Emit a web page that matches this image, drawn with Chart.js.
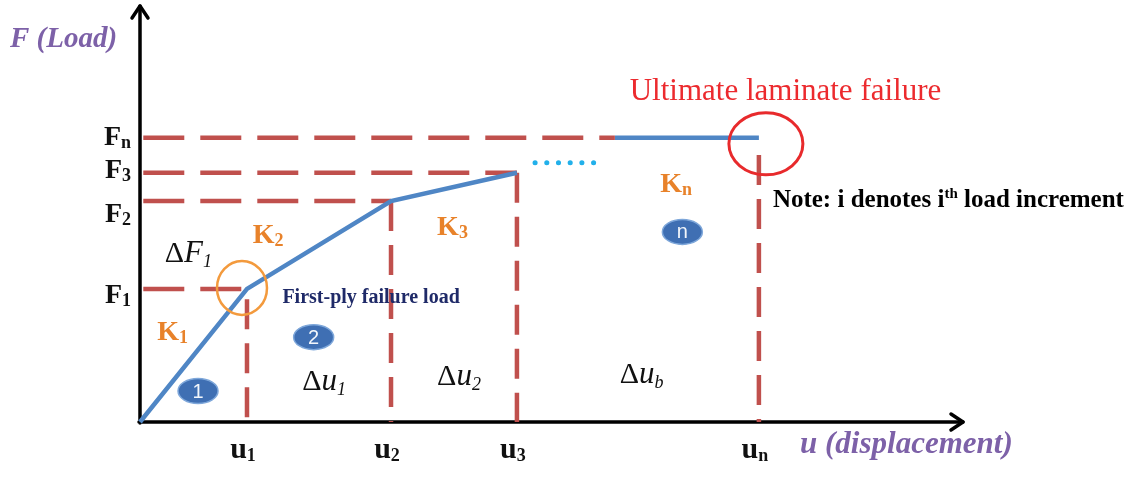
<!DOCTYPE html>
<html>
<head>
<meta charset="utf-8">
<script src="https://cdn.jsdelivr.net/npm/chart.js@4.4.0/dist/chart.umd.min.js"></script>
<style>
  html, body { margin: 0; padding: 0; background: #fff; }
  #wrap { width: 1148px; height: 477px; position: relative; }
</style>
</head>
<body>
<div id="wrap"><canvas id="c"></canvas></div>
<script>
// displacement / load levels (arbitrary units)
const uValues = [13.0, 30.5, 45.8, 75.2];
const uSubs = ['1', '2', '3', 'n'];
const fValues = [32.0, 53.1, 59.9, 68.3];
const fSubs = ['1', '2', '3', 'n'];

// piecewise curve up to u3, then the "..." gap, then the plateau at Fn
const curveU = [0, 13.0, 30.5, 45.8];
const curveF = [0, 32.0, 53.1, 59.9];
const gapU = [48.0, 56.5];
const gapF = [62.3, 62.3];
const plateauU = [57.7, 75.2];

const BLUE = '#4f86c5';
const RED = '#c0504d';
const ORANGE = '#e8822a';
const PURPLE = '#7d61a8';
const SERIF = '"Liberation Serif", "Times New Roman", serif';

function pts(xs, ys) {
    return xs.map((x, i) => ({ x: x, y: ys[i] }));
}

const datasets = [];
datasets.push({ data: pts(curveU, curveF), borderColor: BLUE, borderWidth: 4.5 });
datasets.push({ data: pts(gapU, gapF), borderColor: '#22b0ea', borderWidth: 5, borderDash: [0.1, 11.6], borderCapStyle: 'round' });

// red dashed level lines from the load axis
fValues.forEach((f, i) => {
    const xEnd = i === 3 ? plateauU[0] : uValues[i];
    datasets.push({ data: [{ x: 0.4, y: f }, { x: xEnd, y: f }], borderColor: RED, borderWidth: 4.5, borderDash: [41, 16] });
});
datasets.push({ data: pts(plateauU, [fValues[3], fValues[3]]), borderColor: BLUE, borderWidth: 4.5 });

// red dashed verticals down to the displacement axis
const vTop = [29.5, 53.1, 59.9, 64.2];
uValues.forEach((u, i) => {
    datasets.push({ data: [{ x: u, y: vTop[i] }, { x: u, y: 0 }], borderColor: RED, borderWidth: 4.5, borderDash: [30, 14] });
});

function subText(ctx, base, sub, x, y, font, subFont, color, subDy, align) {
    ctx.font = font;
    const w1 = ctx.measureText(base).width;
    ctx.font = subFont;
    const w2 = ctx.measureText(sub).width;
    let left = x;
    if (align === 'right') left = x - w1 - w2;
    if (align === 'center') left = x - (w1 + w2) / 2;
    ctx.fillStyle = color;
    ctx.textAlign = 'left';
    ctx.textBaseline = 'alphabetic';
    ctx.font = font;
    ctx.fillText(base, left, y);
    ctx.font = subFont;
    ctx.fillText(sub, left + w1, y + subDy);
}

// upright delta + italic symbol + italic subscript
function deltaText(ctx, sym, sub, x, y) {
    ctx.fillStyle = '#111';
    ctx.textAlign = 'left';
    ctx.textBaseline = 'alphabetic';
    ctx.font = '30px ' + SERIF;
    ctx.fillText('\u0394', x, y);
    const w = ctx.measureText('\u0394').width;
    subText(ctx, sym, sub, x + w, y, 'italic 31px ' + SERIF, 'italic 18px ' + SERIF, '#111', 5, 'left');
}

function badge(ctx, x, y, label) {
    ctx.save();
    ctx.beginPath();
    ctx.ellipse(x, y, 20, 12.5, 0, 0, Math.PI * 2);
    ctx.fillStyle = '#3f6fb3';
    ctx.fill();
    ctx.lineWidth = 1.5;
    ctx.strokeStyle = '#7ea7da';
    ctx.stroke();
    ctx.fillStyle = '#f2f6fb';
    ctx.font = '20px "Liberation Sans", Arial, sans-serif';
    ctx.textAlign = 'center';
    ctx.textBaseline = 'middle';
    ctx.fillText(label, x, y + 1);
    ctx.restore();
}

const sketch = {
    id: 'sketch',
    beforeDatasetsDraw(chart) {
        const { ctx, scales: { x, y } } = chart;
        const x0 = x.getPixelForValue(0), y0 = y.getPixelForValue(0);
        const xTip = x.getPixelForValue(100), yTip = y.getPixelForValue(100);
        ctx.save();
        ctx.strokeStyle = '#000';
        ctx.lineWidth = 3.5;
        ctx.lineCap = 'round';
        ctx.lineJoin = 'round';
        ctx.beginPath();
        ctx.moveTo(x0, y0 + 1); ctx.lineTo(x0, yTip);
        ctx.moveTo(x0 - 1, y0); ctx.lineTo(xTip, y0);
        ctx.stroke();
        ctx.beginPath();
        ctx.moveTo(x0 - 8, yTip + 12); ctx.lineTo(x0, yTip); ctx.lineTo(x0 + 8, yTip + 12);
        ctx.moveTo(xTip - 12, y0 - 8); ctx.lineTo(xTip, y0); ctx.lineTo(xTip - 12, y0 + 8);
        ctx.stroke();
        ctx.restore();
    },
    afterDatasetsDraw(chart) {
        const { ctx, scales: { x, y } } = chart;
        const X = v => x.getPixelForValue(v), Y = v => y.getPixelForValue(v);
        ctx.save();

        // circles at first-ply and ultimate failure
        ctx.lineWidth = 2.5;
        ctx.strokeStyle = '#f39a3d';
        ctx.beginPath();
        ctx.ellipse(X(uValues[0]) - 5, Y(fValues[0]) - 1, 25, 27, 0, 0, Math.PI * 2);
        ctx.stroke();
        ctx.strokeStyle = '#e82a2c';
        ctx.lineWidth = 3;
        ctx.beginPath();
        ctx.ellipse(X(uValues[3]) + 7, Y(fValues[3]) + 6, 37, 31, 0, 0, Math.PI * 2);
        ctx.stroke();

        // tick labels
        const tickSub = 'bold 18px ' + SERIF;
        const fDy = [14, 21, 5, 7];
        fValues.forEach((f, i) => {
            subText(ctx, 'F', fSubs[i], X(0) - 9, Y(f) + fDy[i], 'bold 28px ' + SERIF, tickSub, '#111', 3, 'right');
        });
        uValues.forEach((u, i) => {
            subText(ctx, 'u', uSubs[i], X(u) - 4, Y(0) + 36, 'bold 30px ' + SERIF, tickSub, '#111', 3, 'center');
        });

        // axis titles
        ctx.fillStyle = PURPLE;
        ctx.textAlign = 'left';
        ctx.textBaseline = 'alphabetic';
        ctx.font = 'italic bold 29px ' + SERIF;
        ctx.fillText('F (Load)', X(0) - 130, Y(90.1));
        ctx.font = 'italic bold 31px ' + SERIF;
        ctx.fillText('u (displacement)', X(80.2), Y(-7.5));

        // stiffness labels
        const kFont = 'bold 28px ' + SERIF, kSub = 'bold 18px ' + SERIF;
        subText(ctx, 'K', '1', X(2.1), Y(19.7), kFont, kSub, ORANGE, 3, 'left');
        subText(ctx, 'K', '2', X(13.7), Y(43.0), kFont, kSub, ORANGE, 3, 'left');
        subText(ctx, 'K', '3', X(36.1), Y(45.0), kFont, kSub, ORANGE, 3, 'left');
        subText(ctx, 'K', 'n', X(63.2), Y(55.3), kFont, kSub, ORANGE, 3, 'left');

        // increments
        deltaText(ctx, 'F', '1', X(3.0), Y(38.5));
        deltaText(ctx, 'u', '1', X(19.7), Y(7.7));
        deltaText(ctx, 'u', '2', X(36.1), Y(8.9));
        deltaText(ctx, 'u', 'b', X(58.3), Y(9.4));

        ctx.fillStyle = '#1f2a68';
        ctx.font = 'bold 20px ' + SERIF;
        ctx.textAlign = 'left';
        ctx.fillText('First-ply failure load', X(17.3), Y(28.6));

        ctx.fillStyle = '#ec2a2e';
        ctx.font = '31px ' + SERIF;
        ctx.fillText('Ultimate laminate failure', X(59.5), Y(77.4));

        // note with superscript
        ctx.fillStyle = '#000';
        ctx.font = 'bold 25px ' + SERIF;
        let nx = X(76.9);
        const ny = Y(51.7);
        ctx.fillText('Note: i denotes i', nx, ny);
        nx += ctx.measureText('Note: i denotes i').width;
        ctx.font = 'bold 15px ' + SERIF;
        ctx.fillText('th', nx, ny - 9);
        nx += ctx.measureText('th').width;
        ctx.font = 'bold 25px ' + SERIF;
        ctx.fillText(' load increment', nx, ny);

        badge(ctx, X(7.05), Y(7.45), '1');
        badge(ctx, X(21.1), Y(20.4), '2');
        badge(ctx, X(65.9), Y(45.7), 'n');
        ctx.restore();
    }
};

new Chart(document.getElementById('c'), {
    type: 'scatter',
    data: { datasets: datasets.map(d => Object.assign({ showLine: true, pointRadius: 0, fill: false, clip: false }, d)) },
    options: {
        responsive: true,
        maintainAspectRatio: false,
        animation: false,
        layout: { padding: { left: 140, right: 185, top: 6, bottom: 55 } },
        plugins: { legend: { display: false }, tooltip: { enabled: false } },
        scales: {
            x: { type: 'linear', min: 0, max: 100, display: false },
            y: { type: 'linear', min: 0, max: 100, display: false }
        }
    },
    plugins: [sketch]
});
</script>
</body>
</html>
